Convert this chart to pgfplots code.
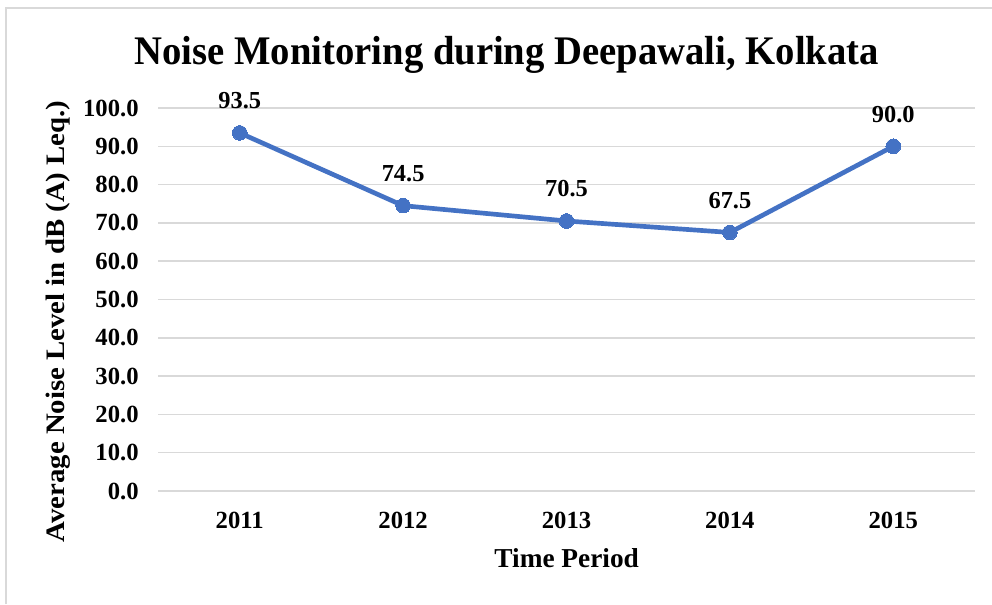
\documentclass[border=0pt]{standalone}
\usepackage{pgfplots}
\pgfplotsset{compat=1.18}
\usepackage{fontspec}
\setmainfont{Liberation Serif}
\definecolor{lineblue}{HTML}{4472C4}
\definecolor{gridgray}{HTML}{D9D9D9}
\begin{document}
\begin{tikzpicture}
\path[use as bounding box] (0,0) rectangle (744pt,453pt);
\draw[gridgray, line width=1.2pt] (4.5pt,0) -- (4.5pt,447pt) -- (744pt,447pt);
\begin{axis}[
  at={(118.5pt,84.75pt)}, anchor=south west,
  scale only axis,
  width=612.75pt, height=287.25pt,
  xmin=-0.5, xmax=4.5,
  ymin=0, ymax=100,
  axis line style={draw=none},
  xtick={0,1,2,3,4},
  xticklabels={2011,2012,2013,2014,2015},
  ytick={0,10,...,100},
  yticklabels={0.0,10.0,20.0,30.0,40.0,50.0,60.0,70.0,80.0,90.0,100.0},
  major tick length=0pt,
  ymajorgrids,
  grid style={gridgray, line width=1.1pt},
  tick label style={font=\fontsize{18.5}{22}\selectfont\bfseries},
  yticklabel style={xshift=-11pt},
  xticklabel style={yshift=-12pt},
  clip=false,
]
\addplot[color=lineblue, line width=3.5pt, mark=*, mark size=5.5pt,
  mark options={fill=lineblue, draw=lineblue, line width=0pt},
  point meta=explicit symbolic,
  nodes near coords,
  nodes near coords style={anchor=center, yshift=24pt, font=\fontsize{18.3}{22}\selectfont\bfseries, text=black}]
coordinates {(0,93.5)[93.5] (1,74.5)[74.5] (2,70.5)[70.5] (3,67.5)[67.5] (4,90.0)[90.0]};
\end{axis}
\node[font=\fontsize{29}{35}\selectfont\bfseries, yscale=1.05] at (380pt,412pt) {Noise Monitoring during Deepawali, Kolkata};
\node[font=\fontsize{20.5}{24}\selectfont\bfseries] at (425pt,34.5pt) {Time Period};
\node[font=\fontsize{20}{24}\selectfont\bfseries, rotate=90, xscale=1.08] at (44pt,212pt) {Average Noise Level in dB (A) Leq.)};
\end{tikzpicture}
\end{document}
